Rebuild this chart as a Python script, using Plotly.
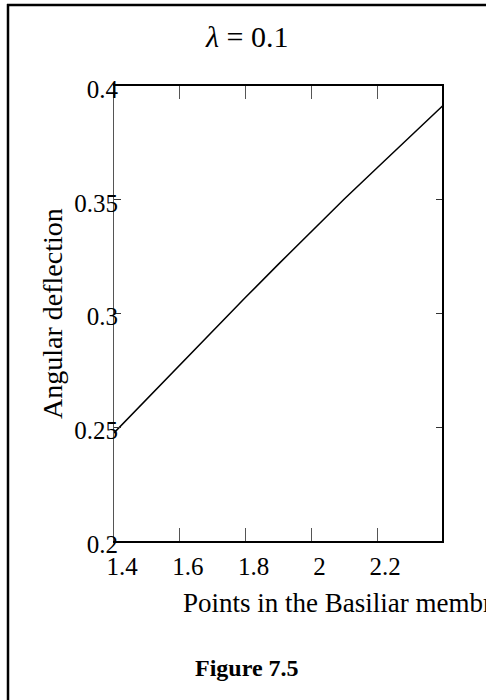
import plotly.graph_objects as go

# Data
x_points = [1.4, 1.5, 1.6, 1.7, 1.8, 1.9, 2.0, 2.1, 2.2, 2.3, 2.4]
angular_deflection = [0.2475, 0.2625, 0.2774, 0.2923, 0.3071, 0.3217, 0.3362, 0.3503, 0.3641, 0.3778, 0.3914]

x_tickvals = [1.4, 1.6, 1.8, 2.0, 2.2]
x_ticktext = ["1.4", "1.6", "1.8", "2", "2.2"]
y_tickvals = [0.2, 0.25, 0.3, 0.35, 0.4]
y_ticktext = ["0.2", "0.25", "0.3", "0.35", "0.4"]

title_text = "<i>λ</i> = 0.1"
x_title = "Points in the Basiliar membrane"
y_title = "Angular deflection"
caption = "Figure 7.5"

W, H = 486, 700
ML, MR, MT, MB = 114, 43, 86, 159
PW, PH = W - ML - MR, H - MT - MB

def px_x(p):
    return (p - ML) / PW

def px_y(p):
    return (H - MB - p) / PH

SERIF = "Liberation Serif"

fig = go.Figure()
fig.add_trace(go.Scatter(
    x=x_points, y=angular_deflection, mode="lines",
    line=dict(color="black", width=1.5), showlegend=False, hoverinfo="skip",
))

fig.update_layout(
    width=W, height=H,
    margin=dict(l=ML, r=MR, t=MT, b=MB, autoexpand=False),
    paper_bgcolor="white", plot_bgcolor="white",
    showlegend=False,
    font=dict(family=SERIF, color="black"),
)

fig.update_xaxes(
    range=[1.4, 2.4], tickvals=x_tickvals, ticktext=x_ticktext,
    showline=True, linewidth=2, linecolor="black", mirror="ticks",
    ticks="inside", ticklen=13, tickwidth=1, tickcolor="#555",
    showgrid=False, zeroline=False,
    tickfont=dict(family=SERIF, size=25, color="black"),
    ticklabelshift=8, ticklabelstandoff=2, automargin=False,
)
fig.update_yaxes(
    range=[0.2, 0.4], tickvals=y_tickvals, ticktext=y_ticktext,
    showline=True, linewidth=1, linecolor="#555", mirror="ticks",
    ticks="inside", ticklen=7, tickwidth=1, tickcolor="#333",
    showgrid=False, zeroline=False,
    tickfont=dict(family=SERIF, size=25, color="black"),
    ticklabelstandoff=-10, ticklabelshift=3, automargin=False,
)

shapes = [
    # thick right axis line
    dict(type="line", xref="paper", yref="paper", x0=1, x1=1, y0=0, y1=1,
         line=dict(color="black", width=2)),
    # page border (left and top)
    dict(type="line", xref="paper", yref="paper",
         x0=px_x(8), x1=px_x(8), y0=px_y(4), y1=px_y(710),
         line=dict(color="black", width=2.5)),
    dict(type="line", xref="paper", yref="paper",
         x0=px_x(7), x1=px_x(500), y0=px_y(5), y1=px_y(5),
         line=dict(color="black", width=2.5)),
]
fig.update_layout(shapes=shapes)

annotations = [
    dict(text=title_text, x=px_x(246), y=px_y(37), xref="paper", yref="paper",
         xanchor="center", yanchor="middle", showarrow=False,
         font=dict(family=SERIF, size=30, color="black")),
    dict(text=y_title, x=px_x(52), y=px_y(314), xref="paper", yref="paper",
         xanchor="center", yanchor="middle", textangle=-90, showarrow=False,
         font=dict(family=SERIF, size=28, color="black")),
    dict(text=x_title, x=px_x(181), y=px_y(603), xref="paper", yref="paper",
         xanchor="left", yanchor="middle", showarrow=False,
         font=dict(family=SERIF, size=27, color="black")),
    dict(text="<b>" + caption + "</b>", x=px_x(193), y=px_y(668), xref="paper", yref="paper",
         xanchor="left", yanchor="middle", showarrow=False,
         font=dict(family=SERIF, size=24, color="black")),
]
fig.update_layout(annotations=annotations)

fig.write_html("out.html")
